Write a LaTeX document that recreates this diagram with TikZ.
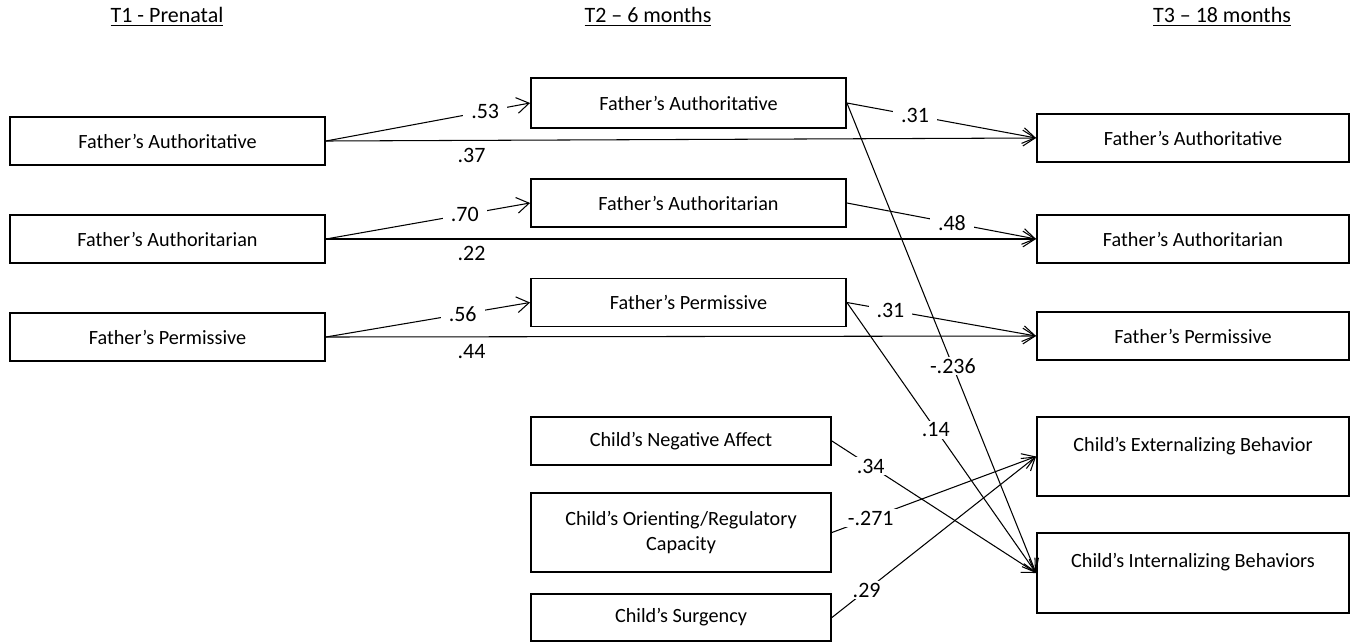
\documentclass[tikz,border=0pt]{standalone}
\usepackage{fontspec}
\setmainfont{Carlito}
\usepackage{tikz}
\usetikzlibrary{arrows.meta,positioning}

\begin{document}
\begin{tikzpicture}[x=0.02cm, y=-0.02cm,
    font=\fontsize{11.5}{14}\selectfont,
    box/.style={draw, line width=1.1pt, inner sep=2pt, align=center,
                minimum width=6.3cm, minimum height=0.96cm},
    path/.style={-{Straight Barb[length=7pt,width=9pt]}, line width=0.6pt},
    coef/.style={fill=white, inner xsep=4.5pt, inner ysep=1pt, font=\fontsize{12.5}{14}\selectfont}]
\useasboundingbox (0,0) rectangle (1360,643);

% Time point headers
\node[font=\fontsize{12.5}{14}\selectfont] (h1) at (167,17) {\underline{T1 - Prenatal}};
\node[font=\fontsize{12.5}{14}\selectfont] (h2) at (648,17) {\underline{T2 -- 6 months}};
\node[font=\fontsize{12.5}{14}\selectfont] (h3) at (1222,17) {\underline{T3 -- 18 months}};

% T1 - prenatal parenting
\node[box] (t1auth) at (167.5,141) {Father’s Authoritative};
\node[box] (t1autn) at (167.5,239) {Father’s Authoritarian};
\node[box] (t1perm) at (167.5,337) {Father’s Permissive};

% T2 - parenting at 6 months
\node[box, minimum height=1cm] (t2auth) at (688.5,103) {Father’s Authoritative};
\node[box] (t2autn) at (688.5,203) {Father’s Authoritarian};
\node[box] (t2perm) at (688.5,302.5) {Father’s Permissive};

% T2 - child temperament
\node[box, minimum width=6cm] (neg) at (681,441) {Child’s Negative Affect};
\node[box, minimum width=6cm, minimum height=1.58cm] (orient) at (681,532.5)
      {Child’s Orienting/Regulatory\\Capacity};
\node[box, minimum width=6cm, minimum height=0.94cm] (surg) at (681,617.5) {Child’s Surgency};

% T3 - outcomes at 18 months
\node[box, minimum width=6.24cm] (t3auth) at (1193,138) {Father’s Authoritative};
\node[box, minimum width=6.24cm] (t3autn) at (1193,239) {Father’s Authoritarian};
\node[box, minimum width=6.24cm] (t3perm) at (1193,336) {Father’s Permissive};
\node[box, minimum width=6.24cm, minimum height=1.58cm] (ext) at (1193,456.5)
      {Child’s Externalizing Behavior\\\mbox{}};
\node[box, minimum width=6.24cm, minimum height=1.6cm] (int) at (1193,573)
      {Child’s Internalizing Behaviors\\\mbox{}};

% T1 -> T2 stability
\draw[path] (t1auth.east) -- node[coef, pos=0.78] {.53} (t2auth.west);
\draw[path] (t1autn.east) -- node[coef, pos=0.68] {.70} (t2autn.west);
\draw[path] (t1perm.east) -- node[coef, pos=0.67] {.56} (t2perm.west);

% T1 -> T3 stability
\draw[path] (t1auth.east) -- node[below, pos=0.205, inner sep=4pt, font=\fontsize{12.5}{14}\selectfont] {.37} (t3auth.west);
\draw[path] (t1autn.east) -- node[below, pos=0.205, inner sep=4pt, font=\fontsize{12.5}{14}\selectfont] {.22} (t3autn.west);
\draw[path] (t1perm.east) -- node[below, pos=0.205, inner sep=4pt, font=\fontsize{12.5}{14}\selectfont] {.44} (t3perm.west);

% T2 -> T3 parenting
\draw[path] (t2auth.east) -- node[coef, pos=0.36] {.31} (t3auth.west);
\draw[path] (t2autn.east) -- node[coef, pos=0.555] {.48} (t3autn.west);
\draw[path] (t2perm.east) -- node[coef, pos=0.23] {.31} (t3perm.west);

% T2 parenting -> child outcomes
\draw[path] (t2auth.east) -- node[coef, pos=0.56] {-.236} (int.west);
\draw[path] (t2perm.east) -- node[coef, pos=0.47] {.14} (int.west);

% temperament -> child outcomes
\draw[path] (neg.east) -- node[coef, pos=0.19] {.34} (int.west);
\draw[path] (orient.east) -- node[coef, pos=0.19] {-.271} (ext.west);
\draw[path] (surg.east) -- node[coef, pos=0.17] {.29} (ext.west);
\end{tikzpicture}
\end{document}
